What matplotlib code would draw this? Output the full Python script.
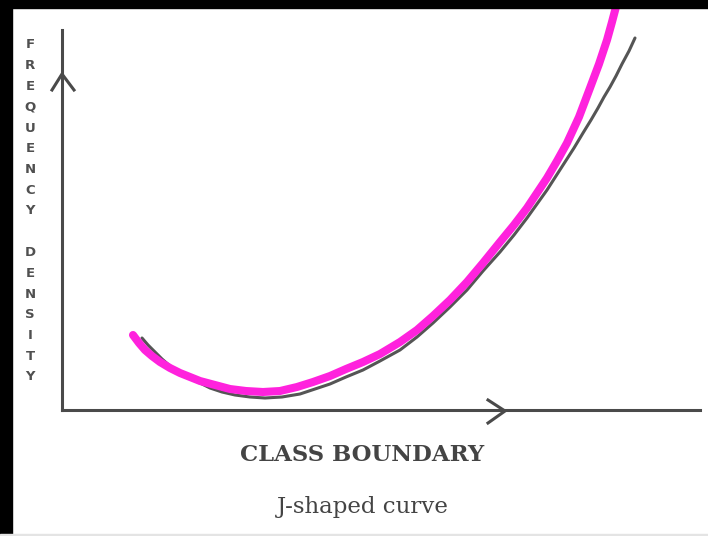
import matplotlib.pyplot as plt
from matplotlib.patches import Rectangle

# axis origin in the picture (pixels); data are offsets from it
OX, OY = 62, 410

# gray printed curve (pixel positions)
gray_px = [142, 148, 155, 162, 170, 180, 190, 200, 210, 222, 235, 250, 265,
           282, 300, 315, 330, 346, 363, 380, 400, 417, 433, 450, 467, 483,
           500, 514, 527, 537, 547, 556, 565, 574, 583, 591, 598, 604, 610,
           616, 622, 629, 635]
gray_py = [338, 345, 352, 359, 366, 372, 378, 383, 388, 392, 395, 397, 398,
           397, 394, 389, 384, 377, 370, 361, 350, 337, 323, 307, 290, 271,
           252, 235, 218, 204, 190, 176, 162, 148, 133, 120, 108, 97, 87,
           76, 64, 51, 38]

# magenta hand-drawn curve
pink_px = [133, 139, 145, 152, 160, 170, 180, 190, 200, 215, 230, 246, 263,
           280, 297, 313, 330, 346, 363, 380, 400, 417, 433, 450, 467, 483,
           500, 514, 527, 537, 547, 557, 567, 579, 590, 599, 607, 612, 617]
pink_py = [335, 343, 350, 356, 362, 368, 373, 377, 381, 385, 389, 391, 392,
           391, 387, 382, 376, 369, 362, 354, 342, 330, 316, 300, 282, 263,
           242, 225, 208, 193, 178, 161, 143, 117, 88, 64, 40, 22, 3]

ylabel = "FREQUENCY DENSITY"
xlabel = "CLASS BOUNDARY"
caption = "J-shaped curve"

W, H = 708, 536
fig = plt.figure(figsize=(W / 100, H / 100), dpi=100)
fig.patch.set_facecolor("white")

# background axes in pixel coordinates for texts
bg = fig.add_axes([0, 0, 1, 1])
bg.set_xlim(0, W)
bg.set_ylim(H, 0)
bg.axis("off")

ax = fig.add_axes([OX / W, (H - OY) / H, (700 - OX) / W, (OY - 30) / H])
ax.set_xlim(0, 700 - OX)
ax.set_ylim(0, OY - 30)
ax.patch.set_alpha(0)
for s in ["top", "right"]:
    ax.spines[s].set_visible(False)
for s in ["left", "bottom"]:
    ax.spines[s].set_color("#4a4a4a")
    ax.spines[s].set_linewidth(2.2)
ax.set_xticks([])
ax.set_yticks([])

gx = [p - OX for p in gray_px]
gy = [OY - p for p in gray_py]
px = [p - OX for p in pink_px]
py = [OY - p for p in pink_py]
ax.plot(gx, gy, color="#555555", lw=2.2, solid_capstyle="round",
        solid_joinstyle="round", clip_on=False)
ax.plot(px, py, color="#ff22dd", lw=5.8, solid_capstyle="round",
        solid_joinstyle="round", clip_on=False)

# arrow heads on the axes
ax.plot([-10, 0, 12], [OY - 90, OY - 74, OY - 90], color="#4a4a4a", lw=2.2,
        clip_on=False, solid_joinstyle="miter")
ax.plot([426, 443, 426], [10, -1, -13], color="#4a4a4a", lw=2.2,
        clip_on=False, solid_joinstyle="miter")

# stacked vertical label
for i, ch in enumerate(ylabel):
    bg.text(30, 45 + i * 20.75, ch, ha="center", va="center", fontsize=9.5,
            fontweight="bold", color="#505050", family="DejaVu Sans")

bg.text(362, 455, xlabel, ha="center", va="center", fontsize=16.4,
        fontweight="bold", color="#444444", family="DejaVu Serif")
bg.text(363, 507, caption, ha="center", va="center", fontsize=16.5,
        color="#444444", family="DejaVu Serif")

# black frame at top and left, thin line at bottom
fig.patches.append(Rectangle((0, 0), 12 / W, 1, transform=fig.transFigure,
                             color="black", zorder=10))
fig.patches.append(Rectangle((0, 1 - 8 / H), 1, 8 / H, transform=fig.transFigure,
                             color="black", zorder=10))
fig.patches.append(Rectangle((0, 0), 1, 2 / H, transform=fig.transFigure,
                             color="#e4e4e4", zorder=10))

fig.savefig("out.png", dpi=100)
